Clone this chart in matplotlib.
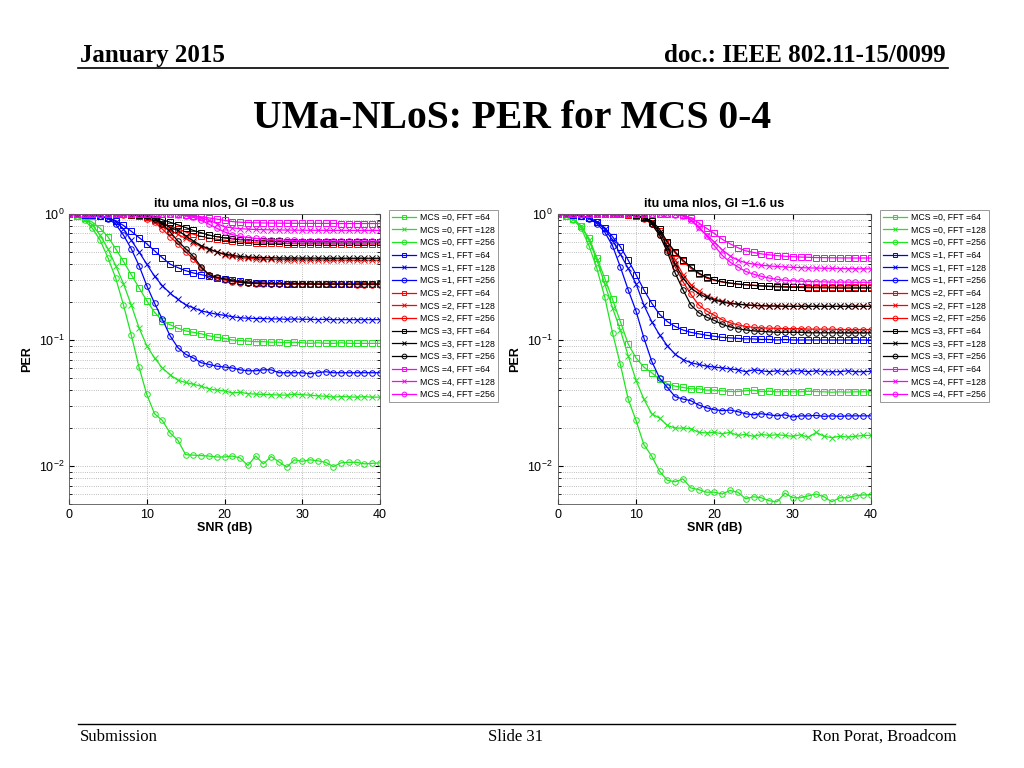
from matplotlib import pyplot as plt
import numpy as np

snr = np.arange(0, 41)

# ---- GI = 0.8 us (left panel) ----
gi08_mcs0_fft64 = [1.0, 0.97, 0.93, 0.86, 0.77, 0.66, 0.53, 0.42, 0.33, 0.26,
                   0.205, 0.166, 0.142, 0.132, 0.124, 0.118, 0.115, 0.112, 0.108, 0.105,
                   0.103, 0.1, 0.099, 0.098, 0.097, 0.097, 0.096, 0.096, 0.095, 0.096,
                   0.095, 0.094, 0.095, 0.094, 0.094, 0.095, 0.094, 0.094, 0.094, 0.094, 0.094]
gi08_mcs0_fft128 = [1.0, 0.97, 0.92, 0.82, 0.68, 0.53, 0.39, 0.28, 0.19, 0.125,
                    0.09, 0.072, 0.06, 0.053, 0.048, 0.046, 0.0445, 0.043, 0.041, 0.04,
                    0.0395, 0.038, 0.0385, 0.0375, 0.0372, 0.037, 0.0368, 0.0366, 0.0365, 0.0372,
                    0.0368, 0.0365, 0.036, 0.0358, 0.0352, 0.0356, 0.0354, 0.0352, 0.0355, 0.0352, 0.0352]
gi08_mcs0_fft256 = [1.0, 0.96, 0.89, 0.77, 0.62, 0.45, 0.31, 0.19, 0.11, 0.061,
                    0.037, 0.026, 0.023, 0.0183, 0.016, 0.0123, 0.0122, 0.0121, 0.012, 0.0118,
                    0.0118, 0.012, 0.0116, 0.0101, 0.012, 0.0104, 0.0119, 0.0108, 0.0098, 0.0112,
                    0.0109, 0.0112, 0.011, 0.0107, 0.0099, 0.0106, 0.0107, 0.0107, 0.0104, 0.0105, 0.0106]
gi08_mcs1_fft64 = [1.0, 1.0, 0.99, 0.98, 0.96, 0.93, 0.885, 0.81, 0.73, 0.65,
                   0.58, 0.51, 0.45, 0.4, 0.375, 0.355, 0.34, 0.33, 0.32, 0.31,
                   0.305, 0.298, 0.292, 0.288, 0.285, 0.283, 0.282, 0.281, 0.28, 0.28,
                   0.279, 0.279, 0.278, 0.278, 0.278, 0.278, 0.277, 0.277, 0.277, 0.277, 0.277]
gi08_mcs1_fft128 = [1.0, 1.0, 0.99, 0.98, 0.96, 0.93, 0.87, 0.76, 0.62, 0.5,
                    0.4, 0.32, 0.27, 0.235, 0.21, 0.19, 0.18, 0.17, 0.165, 0.16,
                    0.157, 0.153, 0.15, 0.149, 0.148, 0.148, 0.147, 0.147, 0.146, 0.147,
                    0.146, 0.146, 0.145, 0.146, 0.145, 0.145, 0.145, 0.145, 0.145, 0.145, 0.145]
gi08_mcs1_fft256 = [1.0, 1.0, 0.99, 0.98, 0.96, 0.92, 0.83, 0.68, 0.53, 0.39,
                    0.27, 0.196, 0.146, 0.108, 0.087, 0.077, 0.072, 0.066, 0.064, 0.062,
                    0.061, 0.06, 0.058, 0.057, 0.057, 0.058, 0.058, 0.055, 0.055, 0.055,
                    0.055, 0.054, 0.055, 0.056, 0.055, 0.055, 0.055, 0.055, 0.055, 0.055, 0.055]
gi08_mcs2_fft64 = [1.0, 1.0, 1.0, 1.0, 1.0, 1.0, 1.0, 1.0, 0.99, 0.97,
                   0.94, 0.89, 0.84, 0.8, 0.76, 0.72, 0.69, 0.665, 0.645, 0.63,
                   0.618, 0.608, 0.6, 0.595, 0.59, 0.587, 0.585, 0.583, 0.582, 0.581,
                   0.58, 0.58, 0.58, 0.58, 0.579, 0.579, 0.579, 0.578, 0.578, 0.578, 0.578]
gi08_mcs2_fft128 = [1.0, 1.0, 1.0, 1.0, 1.0, 1.0, 1.0, 0.995, 0.985, 0.97,
                    0.93, 0.88, 0.8, 0.74, 0.69, 0.64, 0.59, 0.55, 0.52, 0.5,
                    0.475, 0.46, 0.45, 0.445, 0.44, 0.438, 0.436, 0.435, 0.434, 0.433,
                    0.433, 0.432, 0.432, 0.432, 0.431, 0.431, 0.431, 0.43, 0.43, 0.43, 0.43]
gi08_mcs2_fft256 = [1.0, 1.0, 1.0, 1.0, 1.0, 1.0, 1.0, 0.99, 0.98, 0.96,
                    0.92, 0.86, 0.76, 0.66, 0.58, 0.5, 0.44, 0.37, 0.33, 0.31,
                    0.3, 0.29, 0.285, 0.282, 0.28, 0.279, 0.278, 0.278, 0.277, 0.277,
                    0.277, 0.277, 0.276, 0.276, 0.276, 0.276, 0.276, 0.275, 0.275, 0.275, 0.275]
gi08_mcs3_fft64 = [1.0, 1.0, 1.0, 1.0, 1.0, 1.0, 1.0, 1.0, 0.995, 0.99,
                   0.98, 0.95, 0.9, 0.86, 0.82, 0.78, 0.74, 0.71, 0.68, 0.66,
                   0.645, 0.635, 0.625, 0.62, 0.615, 0.61, 0.607, 0.605, 0.603, 0.602,
                   0.601, 0.6, 0.6, 0.6, 0.6, 0.6, 0.6, 0.6, 0.6, 0.6, 0.6]
gi08_mcs3_fft128 = [1.0, 1.0, 1.0, 1.0, 1.0, 1.0, 1.0, 1.0, 0.99, 0.98,
                    0.96, 0.92, 0.85, 0.78, 0.74, 0.67, 0.61, 0.56, 0.53, 0.5,
                    0.48, 0.47, 0.46, 0.455, 0.452, 0.45, 0.449, 0.448, 0.447, 0.447,
                    0.446, 0.446, 0.446, 0.445, 0.445, 0.445, 0.445, 0.445, 0.445, 0.445, 0.445]
gi08_mcs3_fft256 = [1.0, 1.0, 1.0, 1.0, 1.0, 1.0, 1.0, 1.0, 0.99, 0.985,
                    0.97, 0.92, 0.83, 0.72, 0.61, 0.53, 0.46, 0.38, 0.33, 0.315,
                    0.305, 0.295, 0.288, 0.284, 0.282, 0.281, 0.28, 0.28, 0.279, 0.279,
                    0.279, 0.278, 0.278, 0.278, 0.278, 0.278, 0.278, 0.278, 0.278, 0.278, 0.278]
gi08_mcs4_fft64 = [1.0, 1.0, 1.0, 1.0, 1.0, 1.0, 1.0, 1.0, 1.0, 1.0,
                   1.0, 1.0, 1.0, 1.0, 0.995, 0.99, 0.97, 0.95, 0.93, 0.91,
                   0.89, 0.87, 0.86, 0.855, 0.85, 0.848, 0.846, 0.845, 0.844, 0.843,
                   0.843, 0.842, 0.842, 0.841, 0.841, 0.84, 0.84, 0.84, 0.84, 0.84, 0.84]
gi08_mcs4_fft128 = [1.0, 1.0, 1.0, 1.0, 1.0, 1.0, 1.0, 1.0, 1.0, 1.0,
                    1.0, 1.0, 1.0, 1.0, 0.99, 0.98, 0.96, 0.93, 0.89, 0.84,
                    0.79, 0.775, 0.765, 0.758, 0.753, 0.75, 0.748, 0.746, 0.745, 0.744,
                    0.743, 0.742, 0.742, 0.741, 0.741, 0.741, 0.74, 0.74, 0.74, 0.74, 0.74]
gi08_mcs4_fft256 = [1.0, 1.0, 1.0, 1.0, 1.0, 1.0, 1.0, 1.0, 1.0, 1.0,
                    1.0, 1.0, 1.0, 1.0, 0.99, 0.97, 0.94, 0.89, 0.83, 0.77,
                    0.72, 0.685, 0.665, 0.65, 0.64, 0.632, 0.626, 0.622, 0.619, 0.617,
                    0.615, 0.614, 0.613, 0.612, 0.611, 0.61, 0.61, 0.61, 0.61, 0.61, 0.61]

# ---- GI = 1.6 us (right panel) ----
gi16_mcs0_fft64 = [1.0, 0.97, 0.91, 0.8, 0.64, 0.45, 0.31, 0.21, 0.14, 0.093,
                   0.072, 0.061, 0.055, 0.049, 0.045, 0.043, 0.042, 0.041, 0.041, 0.04,
                   0.04, 0.0395, 0.039, 0.039, 0.0395, 0.04, 0.039, 0.0392, 0.0388, 0.039,
                   0.0388, 0.0388, 0.0392, 0.039, 0.0388, 0.0385, 0.0388, 0.0386, 0.0388, 0.0388, 0.0388]
gi16_mcs0_fft128 = [1.0, 0.97, 0.91, 0.8, 0.62, 0.43, 0.28, 0.18, 0.12, 0.075,
                    0.048, 0.034, 0.026, 0.024, 0.021, 0.02, 0.02, 0.0198, 0.0185, 0.0183,
                    0.0185, 0.018, 0.0185, 0.0175, 0.0178, 0.0172, 0.0178, 0.0175, 0.0177, 0.0175,
                    0.0172, 0.0177, 0.0169, 0.0185, 0.0172, 0.0168, 0.0172, 0.017, 0.0172, 0.0175, 0.0175]
gi16_mcs0_fft256 = [1.0, 0.97, 0.9, 0.77, 0.56, 0.37, 0.22, 0.114, 0.064, 0.034,
                    0.023, 0.0148, 0.012, 0.0091, 0.0077, 0.0075, 0.0079, 0.0067, 0.0065, 0.0062,
                    0.0062, 0.006, 0.0064, 0.0062, 0.0055, 0.0057, 0.0056, 0.0053, 0.0052, 0.0061,
                    0.0056, 0.0056, 0.0058, 0.006, 0.0057, 0.0052, 0.0056, 0.0056, 0.0058, 0.0059, 0.0059]
gi16_mcs1_fft64 = [1.0, 1.0, 0.99, 0.97, 0.93, 0.87, 0.78, 0.66, 0.55, 0.43,
                   0.33, 0.25, 0.196, 0.16, 0.14, 0.128, 0.12, 0.115, 0.112, 0.109,
                   0.107, 0.105, 0.104, 0.103, 0.102, 0.102, 0.101, 0.101, 0.1, 0.101,
                   0.1, 0.1, 0.1, 0.1, 0.1, 0.1, 0.1, 0.1, 0.1, 0.1, 0.1]
gi16_mcs1_fft128 = [1.0, 1.0, 0.99, 0.97, 0.93, 0.86, 0.76, 0.62, 0.48, 0.37,
                    0.28, 0.19, 0.14, 0.11, 0.09, 0.077, 0.07, 0.066, 0.064, 0.062,
                    0.061, 0.06, 0.059, 0.058, 0.056, 0.058, 0.057, 0.056, 0.057, 0.056,
                    0.057, 0.057, 0.056, 0.057, 0.056, 0.056, 0.056, 0.057, 0.056, 0.056, 0.0565]
gi16_mcs1_fft256 = [1.0, 1.0, 0.99, 0.97, 0.92, 0.84, 0.72, 0.56, 0.38, 0.25,
                    0.17, 0.104, 0.068, 0.05, 0.042, 0.0355, 0.034, 0.033, 0.0305, 0.029,
                    0.028, 0.0275, 0.0278, 0.027, 0.026, 0.0255, 0.026, 0.0255, 0.025, 0.0255,
                    0.0245, 0.025, 0.025, 0.0252, 0.0248, 0.025, 0.0248, 0.025, 0.025, 0.025, 0.025]
gi16_mcs2_fft64 = [1.0, 1.0, 1.0, 1.0, 1.0, 1.0, 1.0, 1.0, 1.0, 0.99,
                   0.97, 0.93, 0.85, 0.73, 0.59, 0.49, 0.42, 0.37, 0.335, 0.31,
                   0.297, 0.288, 0.282, 0.278, 0.275, 0.272, 0.27, 0.268, 0.267, 0.266,
                   0.265, 0.265, 0.264, 0.264, 0.264, 0.263, 0.263, 0.263, 0.262, 0.262, 0.262]
gi16_mcs2_fft128 = [1.0, 1.0, 1.0, 1.0, 1.0, 1.0, 1.0, 1.0, 1.0, 0.99,
                    0.97, 0.93, 0.85, 0.72, 0.6, 0.43, 0.33, 0.275, 0.245, 0.225,
                    0.212, 0.203, 0.197, 0.193, 0.19, 0.188, 0.187, 0.186, 0.186, 0.185,
                    0.185, 0.185, 0.185, 0.185, 0.185, 0.185, 0.185, 0.185, 0.185, 0.185, 0.185]
gi16_mcs2_fft256 = [1.0, 1.0, 1.0, 1.0, 1.0, 1.0, 1.0, 1.0, 1.0, 0.99,
                    0.97, 0.92, 0.83, 0.68, 0.52, 0.38, 0.29, 0.23, 0.19, 0.17,
                    0.157, 0.145, 0.137, 0.132, 0.128, 0.126, 0.125, 0.124, 0.124, 0.123,
                    0.123, 0.123, 0.122, 0.122, 0.122, 0.122, 0.121, 0.121, 0.121, 0.121, 0.121]
gi16_mcs3_fft64 = [1.0, 1.0, 1.0, 1.0, 1.0, 1.0, 1.0, 1.0, 1.0, 1.0,
                   0.98, 0.94, 0.88, 0.76, 0.6, 0.5, 0.43, 0.38, 0.34, 0.315,
                   0.3, 0.29, 0.283, 0.278, 0.274, 0.271, 0.268, 0.266, 0.264, 0.263,
                   0.262, 0.261, 0.26, 0.26, 0.259, 0.259, 0.258, 0.258, 0.258, 0.258, 0.258]
gi16_mcs3_fft128 = [1.0, 1.0, 1.0, 1.0, 1.0, 1.0, 1.0, 1.0, 1.0, 0.995,
                    0.975, 0.935, 0.86, 0.72, 0.55, 0.4, 0.31, 0.26, 0.233, 0.218,
                    0.208, 0.2, 0.195, 0.192, 0.19, 0.188, 0.187, 0.186, 0.186, 0.185,
                    0.185, 0.185, 0.185, 0.185, 0.185, 0.185, 0.185, 0.185, 0.185, 0.185, 0.185]
gi16_mcs3_fft256 = [1.0, 1.0, 1.0, 1.0, 1.0, 1.0, 1.0, 1.0, 1.0, 0.995,
                    0.975, 0.93, 0.84, 0.68, 0.5, 0.34, 0.25, 0.19, 0.165, 0.152,
                    0.143, 0.133, 0.127, 0.123, 0.12, 0.118, 0.117, 0.116, 0.115, 0.115,
                    0.115, 0.115, 0.114, 0.114, 0.114, 0.114, 0.114, 0.114, 0.114, 0.114, 0.114]
gi16_mcs4_fft64 = [1.0, 1.0, 1.0, 1.0, 1.0, 1.0, 1.0, 1.0, 1.0, 1.0,
                   1.0, 1.0, 1.0, 1.0, 1.0, 0.995, 0.98, 0.93, 0.85, 0.77,
                   0.7, 0.63, 0.58, 0.54, 0.51, 0.495, 0.482, 0.474, 0.467, 0.462,
                   0.458, 0.455, 0.453, 0.451, 0.45, 0.449, 0.448, 0.448, 0.447, 0.447, 0.447]
gi16_mcs4_fft128 = [1.0, 1.0, 1.0, 1.0, 1.0, 1.0, 1.0, 1.0, 1.0, 1.0,
                    1.0, 1.0, 1.0, 1.0, 1.0, 0.995, 0.97, 0.89, 0.78, 0.68,
                    0.6, 0.52, 0.465, 0.43, 0.41, 0.4, 0.392, 0.387, 0.383, 0.38,
                    0.377, 0.375, 0.373, 0.372, 0.371, 0.37, 0.369, 0.368, 0.368, 0.367, 0.367]
gi16_mcs4_fft256 = [1.0, 1.0, 1.0, 1.0, 1.0, 1.0, 1.0, 1.0, 1.0, 1.0,
                    1.0, 1.0, 1.0, 1.0, 1.0, 0.99, 0.97, 0.9, 0.79, 0.67,
                    0.56, 0.47, 0.415, 0.38, 0.35, 0.333, 0.32, 0.31, 0.303, 0.298,
                    0.295, 0.293, 0.291, 0.29, 0.289, 0.288, 0.288, 0.288, 0.287, 0.287, 0.287]

mcs_values = [0, 1, 2, 3, 4]
fft_sizes = [64, 128, 256]
mcs_colors = ['#1ee61e', '#0000ff', '#ff0000', '#000000', '#ff00ff']
fft_markers = ['s', 'x', 'o']

gi08_curves = [
    [gi08_mcs0_fft64, gi08_mcs0_fft128, gi08_mcs0_fft256],
    [gi08_mcs1_fft64, gi08_mcs1_fft128, gi08_mcs1_fft256],
    [gi08_mcs2_fft64, gi08_mcs2_fft128, gi08_mcs2_fft256],
    [gi08_mcs3_fft64, gi08_mcs3_fft128, gi08_mcs3_fft256],
    [gi08_mcs4_fft64, gi08_mcs4_fft128, gi08_mcs4_fft256],
]
gi16_curves = [
    [gi16_mcs0_fft64, gi16_mcs0_fft128, gi16_mcs0_fft256],
    [gi16_mcs1_fft64, gi16_mcs1_fft128, gi16_mcs1_fft256],
    [gi16_mcs2_fft64, gi16_mcs2_fft128, gi16_mcs2_fft256],
    [gi16_mcs3_fft64, gi16_mcs3_fft128, gi16_mcs3_fft256],
    [gi16_mcs4_fft64, gi16_mcs4_fft128, gi16_mcs4_fft256],
]

SANS = 'Liberation Sans'
SERIF = 'Liberation Serif'


def draw_panel(ax, curves, title):
    for i, mcs in enumerate(mcs_values):
        for j, fft in enumerate(fft_sizes):
            ax.semilogy(snr, curves[i][j], color=mcs_colors[i], marker=fft_markers[j],
                        markersize=4.0, markerfacecolor='none', markeredgewidth=0.7,
                        linewidth=0.9, label=f'MCS ={mcs}, FFT ={fft}')
    ax.set_xlim(0, 40)
    ax.set_ylim(5e-3, 1)
    ax.set_xticks([0, 10, 20, 30, 40])
    ax.grid(True, which='major', linestyle=':', color='#a8a8a8', linewidth=0.6)
    ax.grid(True, which='minor', axis='y', linestyle=':', color='#a8a8a8', linewidth=0.6)
    ax.tick_params(which='both', direction='in', top=True, right=True, labelsize=9)
    ax.tick_params(which='major', length=3.5)
    ax.tick_params(which='minor', length=2)
    for lab in ax.get_xticklabels() + ax.get_yticklabels():
        lab.set_fontfamily(SANS)
    for sp in ax.spines.values():
        sp.set_linewidth(0.6)
        sp.set_color('#555555')
    ax.set_title(title, fontsize=9, fontweight='bold', family=SANS, pad=5)
    ax.set_xlabel('SNR (dB)', fontsize=9, fontweight='bold', family=SANS, labelpad=1)
    ax.set_ylabel('PER', fontsize=9, fontweight='bold', family=SANS, labelpad=4)
    leg = ax.legend(loc='upper left', bbox_to_anchor=(1.028, 1.015), borderaxespad=0,
                    prop={'family': SANS, 'size': 6.3}, handlelength=2.8,
                    labelspacing=0.42, handletextpad=0.4, borderpad=0.35,
                    fancybox=False, framealpha=1, markerscale=0.85)
    leg.get_frame().set_edgecolor('#888888')
    leg.get_frame().set_linewidth(0.6)


def main():
    fig = plt.figure(figsize=(10.24, 7.68), dpi=100)
    fig.patch.set_facecolor('white')

    ax1 = fig.add_axes([0.0674, 0.3438, 0.3037, 0.3776])
    ax2 = fig.add_axes([0.5446, 0.3438, 0.3060, 0.3776])
    draw_panel(ax1, gi08_curves, 'itu uma nlos, GI =0.8 us')
    draw_panel(ax2, gi16_curves, 'itu uma nlos, GI =1.6 us')

    # slide header / footer
    fig.text(0.078, 0.928, 'January 2015', family=SERIF, fontweight='bold',
             fontsize=18, ha='left', va='center')
    fig.text(0.923, 0.928, 'doc.: IEEE 802.11-15/0099', family=SERIF, fontweight='bold',
             fontsize=18, ha='right', va='center')
    fig.add_artist(plt.Line2D([0.076, 0.926], [0.9115, 0.9115], color='black', linewidth=1.2))
    fig.text(0.5, 0.846, 'UMa-NLoS: PER for MCS 0-4', family=SERIF, fontweight='bold',
             fontsize=28.5, ha='center', va='center')

    fig.add_artist(plt.Line2D([0.076, 0.933], [0.0573, 0.0573], color='black', linewidth=1.0))
    fig.text(0.078, 0.0404, 'Submission', family=SERIF, fontsize=12, ha='left', va='center')
    fig.text(0.503, 0.0404, 'Slide 31', family=SERIF, fontsize=12, ha='center', va='center')
    fig.text(0.934, 0.0404, 'Ron Porat, Broadcom', family=SERIF, fontsize=12,
             ha='right', va='center')

    fig.savefig('out.png', dpi=100)


if __name__ == '__main__':
    main()
